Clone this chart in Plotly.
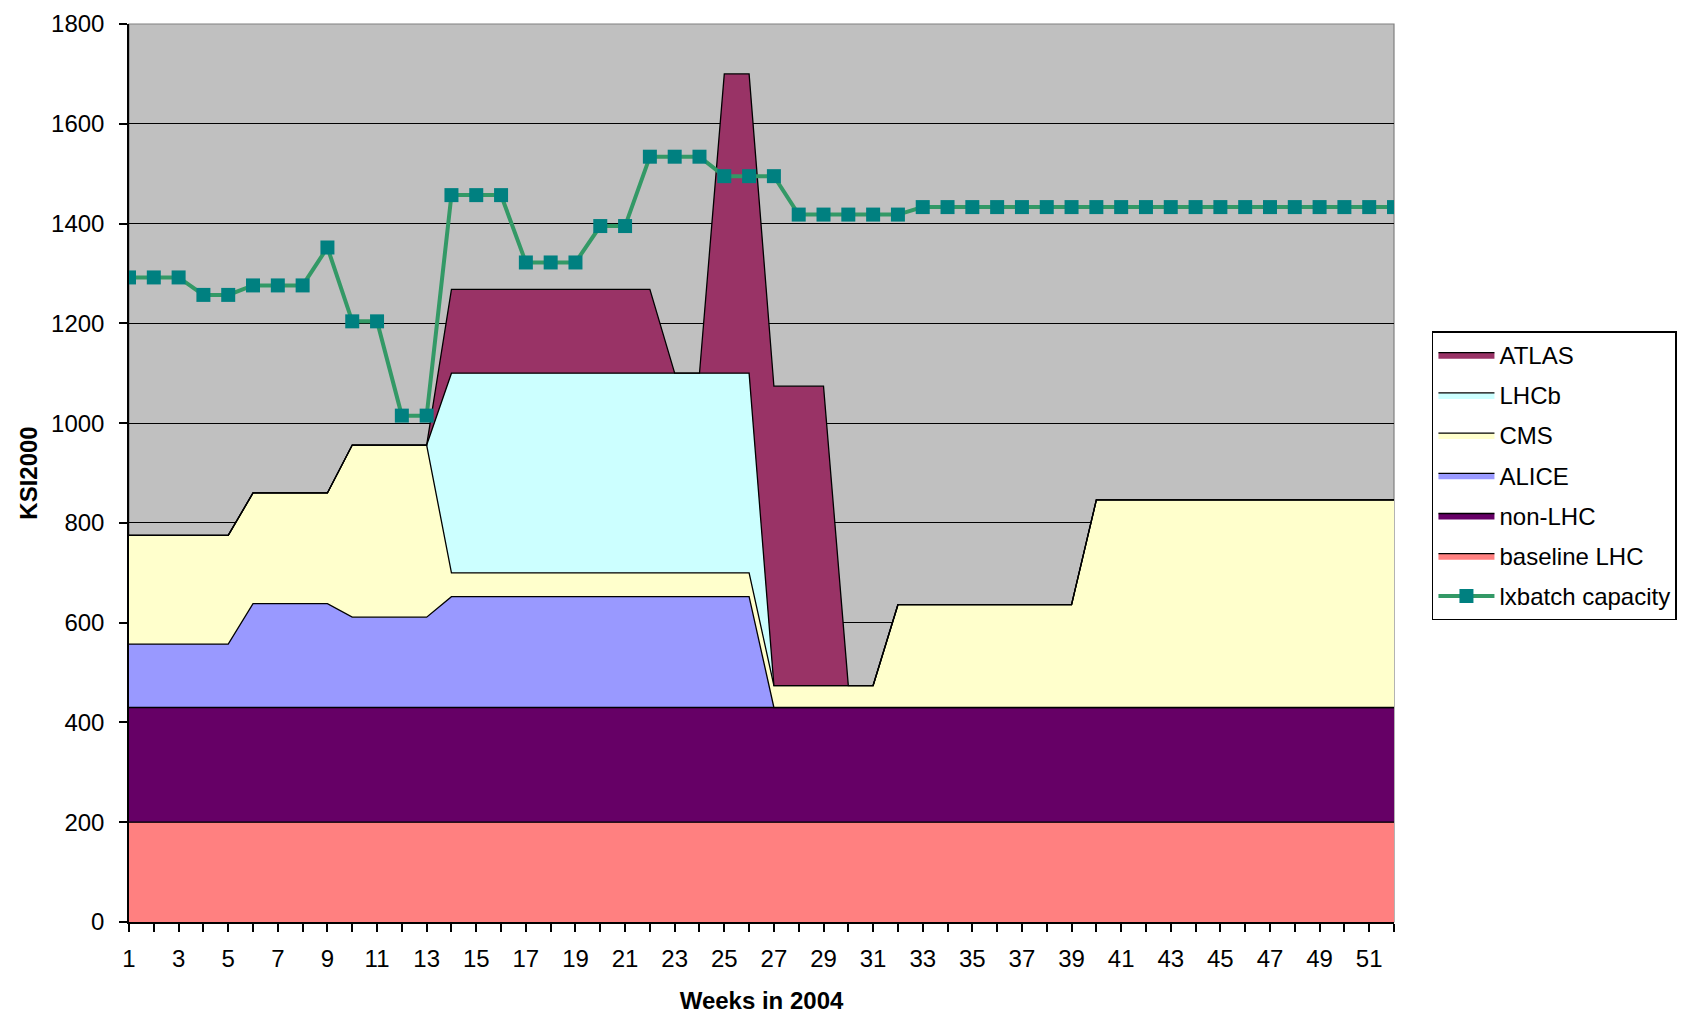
import plotly.graph_objects as go

# ---- data ----
weeks = list(range(1, 53))
tick_weeks = [1, 3, 5, 7, 9, 11, 13, 15, 17, 19, 21, 23, 25, 27, 29, 31, 33, 35,
              37, 39, 41, 43, 45, 47, 49, 51]

baseline_lhc = [200, 200, 200, 200, 200, 200, 200, 200, 200, 200, 200, 200, 200,
                200, 200, 200, 200, 200, 200, 200, 200, 200, 200, 200, 200, 200,
                200, 200, 200, 200, 200, 200, 200, 200, 200, 200, 200, 200, 200,
                200, 200, 200, 200, 200, 200, 200, 200, 200, 200, 200, 200, 200]
non_lhc = [230, 230, 230, 230, 230, 230, 230, 230, 230, 230, 230, 230, 230,
           230, 230, 230, 230, 230, 230, 230, 230, 230, 230, 230, 230, 230,
           230, 230, 230, 230, 230, 230, 230, 230, 230, 230, 230, 230, 230,
           230, 230, 230, 230, 230, 230, 230, 230, 230, 230, 230, 230, 230]
alice = [127, 127, 127, 127, 127, 208, 208, 208, 208, 181, 181, 181, 181,
         222, 222, 222, 222, 222, 222, 222, 222, 222, 222, 222, 222, 222,
         0, 0, 0, 0, 0, 0, 0, 0, 0, 0, 0, 0, 0,
         0, 0, 0, 0, 0, 0, 0, 0, 0, 0, 0, 0, 0]
cms = [218, 218, 218, 218, 218, 222, 222, 222, 222, 345, 345, 345, 345,
       48, 48, 48, 48, 48, 48, 48, 48, 48, 48, 48, 48, 48,
       44, 44, 44, 44, 44, 206, 206, 206, 206, 206, 206, 206, 206,
       416, 416, 416, 416, 416, 416, 416, 416, 416, 416, 416, 416, 416]
lhcb = [0, 0, 0, 0, 0, 0, 0, 0, 0, 0, 0, 0, 0,
        400, 400, 400, 400, 400, 400, 400, 400, 400, 400, 400, 400, 400,
        0, 0, 0, 0, 0, 0, 0, 0, 0, 0, 0, 0, 0,
        0, 0, 0, 0, 0, 0, 0, 0, 0, 0, 0, 0, 0]
atlas = [0, 0, 0, 0, 0, 0, 0, 0, 0, 0, 0, 0, 0,
         168, 168, 168, 168, 168, 168, 168, 168, 168, 0, 0, 600, 600,
         600, 600, 600, 0, 0, 0, 0, 0, 0, 0, 0, 0, 0,
         0, 0, 0, 0, 0, 0, 0, 0, 0, 0, 0, 0, 0]
lxbatch = [1292, 1292, 1292, 1257, 1257, 1276, 1276, 1276, 1352, 1204, 1204, 1015, 1015,
           1457, 1457, 1457, 1322, 1322, 1322, 1395, 1395, 1534, 1534, 1534, 1495, 1495,
           1495, 1418, 1418, 1418, 1418, 1418, 1433, 1433, 1433, 1433, 1433, 1433, 1433,
           1433, 1433, 1433, 1433, 1433, 1433, 1433, 1433, 1433, 1433, 1433, 1433, 1433]

series = [
    ("baseline LHC", baseline_lhc, "#FF8080", 6),
    ("non-LHC", non_lhc, "#660066", 5),
    ("ALICE", alice, "#9999FF", 4),
    ("CMS", cms, "#FFFFCC", 3),
    ("LHCb", lhcb, "#CCFFFF", 2),
    ("ATLAS", atlas, "#993366", 1),
]

FONT = "Liberation Sans, Arial, sans-serif"

fig = go.Figure()
for name, vals, color, rank in series:
    fig.add_trace(go.Scatter(
        x=weeks, y=vals, name=name, stackgroup="one", mode="lines",
        line=dict(color="black", width=1.3), fillcolor=color,
        legendrank=rank, legendgroup=name,
    ))

fig.add_trace(go.Scatter(
    x=weeks, y=lxbatch, name="lxbatch capacity", mode="lines+markers",
    line=dict(color="#339966", width=4),
    marker=dict(symbol="square", size=14, color="#008080",
                line=dict(width=0)),
    legendrank=7, legendgroup="lxbatch",
))

fig.update_layout(
    width=1685, height=1015,
    margin=dict(l=129, r=291, t=24, b=93, autoexpand=False),
    paper_bgcolor="white", plot_bgcolor="#C0C0C0",
    font=dict(family=FONT, size=24, color="black"),
    showlegend=True,
    legend=dict(
        x=1.030, y=0.658, xanchor="left", yanchor="top",
        bgcolor="white", bordercolor="black", borderwidth=1.5,
        font=dict(family=FONT, size=24, color="black"),
        traceorder="grouped", tracegroupgap=6, itemwidth=56,
    ),
    xaxis=dict(
        range=[1, 52], tickmode="array", tickvals=tick_weeks,
        ticktext=[str(w) for w in tick_weeks], automargin=False,
        ticks="outside", ticklen=8, tickwidth=1.5, tickcolor="black",
        minor=dict(tickmode="linear", tick0=1, dtick=1, ticks="outside",
                   ticklen=8, tickwidth=1.5, tickcolor="black", showgrid=False),
        showline=True, linecolor="black", linewidth=1.5,
        showgrid=False, zeroline=False,
        tickfont=dict(family=FONT, size=24, color="black"),
        ticklabelstandoff=6,
        title=dict(text="<b>Weeks in 2004</b>", font=dict(family=FONT, size=24),
                   standoff=22),
    ),
    yaxis=dict(
        range=[0, 1800], tickmode="linear", tick0=0, dtick=200, automargin=False,
        ticks="outside", ticklen=8, tickwidth=1.5, tickcolor="black",
        showline=True, linecolor="black", linewidth=1.5,
        showgrid=True, gridcolor="black", gridwidth=1.3, zeroline=False,
        tickfont=dict(family=FONT, size=24, color="black"),
        ticklabelstandoff=10,
        title=dict(text="<b>KSI2000</b>", font=dict(family=FONT, size=24),
                   standoff=7),
    ),
    shapes=[dict(type="rect", xref="paper", yref="paper", x0=0, y0=0, x1=1, y1=1,
                 line=dict(color="#808080", width=1.2), layer="below")],
)

fig.write_html("out.html", config={"displayModeBar": False},
               post_script="document.body.style.margin='0';document.body.style.overflow='hidden';")
